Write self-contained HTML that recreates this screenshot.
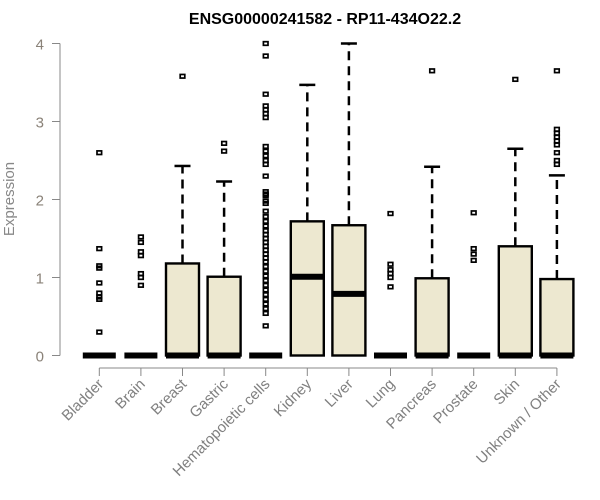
<!DOCTYPE html>
<html><head><meta charset="utf-8"><style>
body{margin:0;background:#fff}
svg{display:block;font-family:"Liberation Sans",Arial,sans-serif}
</style></head><body>
<svg id="chart" width="600" height="500">
<text x="325" y="24" text-anchor="middle" font-weight="bold" font-size="16" fill="#000">ENSG00000241582 - RP11-434O22.2</text>
<text transform="translate(14,199) rotate(-90)" text-anchor="middle" font-size="15" fill="#888">Expression</text>
<g id="axes"></g><g id="boxes"></g>
</svg>
<script>
const categories=["Bladder","Brain","Breast","Gastric","Hematopoietic cells","Kidney","Liver","Lung","Pancreas","Prostate","Skin","Unknown / Other"];
const q1=[0,0,0,0,0,0,0,0,0,0,0,0];
const medians=[0,0,0,0,0,1.01,0.79,0,0,0,0,0];
const q3=[0,0,1.18,1.01,0,1.72,1.67,0,0.99,0,1.4,0.98];
const whiskerHigh=[0,0,2.43,2.23,0,3.47,4.0,0,2.42,0,2.65,2.31];
const outliers=[
[2.6,1.37,1.15,1.12,0.93,0.8,0.75,0.72,0.3],
[1.52,1.45,1.33,1.28,1.05,1.0,0.9],
[3.58],
[2.72,2.62],
[4.0,3.84,3.35,3.2,3.15,3.1,3.05,2.68,2.62,2.56,2.5,2.45,2.3,2.1,2.07,2.05,1.98,1.95,1.85,1.78,1.72,1.66,1.6,1.55,1.5,1.45,1.4,1.35,1.3,1.25,1.2,1.14,1.08,1.02,0.96,0.9,0.84,0.78,0.72,0.66,0.6,0.54,0.38],
[],[],
[1.82,1.17,1.1,1.05,1.0,0.88],
[3.65],
[1.83,1.37,1.3,1.22],
[3.54],
[3.65,2.9,2.85,2.8,2.75,2.7,2.6,2.5,2.45]];
const yTicks=[0,1,2,3,4];
const NS="http://www.w3.org/2000/svg";
const y=v=>355.5-v*78;
const x=i=>99.3+i*41.6;
function mk(tag,attrs,parent){const e=document.createElementNS(NS,tag);for(const k in attrs)e.setAttribute(k,attrs[k]);parent.appendChild(e);return e;}
const ax=document.getElementById('axes'),bx=document.getElementById('boxes');
let yl=mk('line',{x1:60,x2:60,y1:y(0),y2:y(4),stroke:'#888'},ax);


yTicks.forEach(t=>{
 const l=mk('line',{x1:52,x2:60,y1:y(t),y2:y(t),stroke:'#888'},ax);
 
 
 const tx=mk('text',{x:44,y:y(t)+6,'text-anchor':'end','font-size':15,fill:'#8a8278'},ax);
 tx.textContent=t;
 
 
});
let xl=mk('line',{x1:x(0),x2:x(categories.length-1),y1:368,y2:368,stroke:'#888'},ax);


categories.forEach((c,i)=>{
 const cx=x(i);
 const tk=mk('line',{x1:cx,x2:cx,y1:368,y2:376,stroke:'#888'},ax);
 
 
 const lb=mk('text',{transform:`translate(${cx+5},${385}) rotate(-45)`,'text-anchor':'end','font-size':15,fill:'#808080'},ax);
 lb.textContent=c;
 
 
 const g=mk('g',{},bx);
 
 
 if(whiskerHigh[i]>q3[i]){
  mk('line',{x1:cx,x2:cx,y1:y(q3[i]),y2:y(whiskerHigh[i]),stroke:'#000','stroke-width':2.5,'stroke-dasharray':'9,6'},g);
  mk('line',{x1:cx-8,x2:cx+8,y1:y(whiskerHigh[i]),y2:y(whiskerHigh[i]),stroke:'#000','stroke-width':2.5},g);
 }
 if(q3[i]>q1[i]){
  mk('rect',{x:cx-16.5,y:y(q3[i]),width:33,height:y(q1[i])-y(q3[i]),fill:'#ede8d0',stroke:'#000','stroke-width':2.4},g);
 }
 mk('line',{x1:cx-16.5,x2:cx+16.5,y1:y(medians[i]),y2:y(medians[i]),stroke:'#000','stroke-width':6},g);
 outliers[i].forEach(v=>{
  const p=mk('rect',{x:cx-2.3,y:y(v)-1.8,width:4.6,height:3.6,fill:'none',stroke:'#000','stroke-width':1.7},g);
  
  
 });
});
</script>
</body></html>
